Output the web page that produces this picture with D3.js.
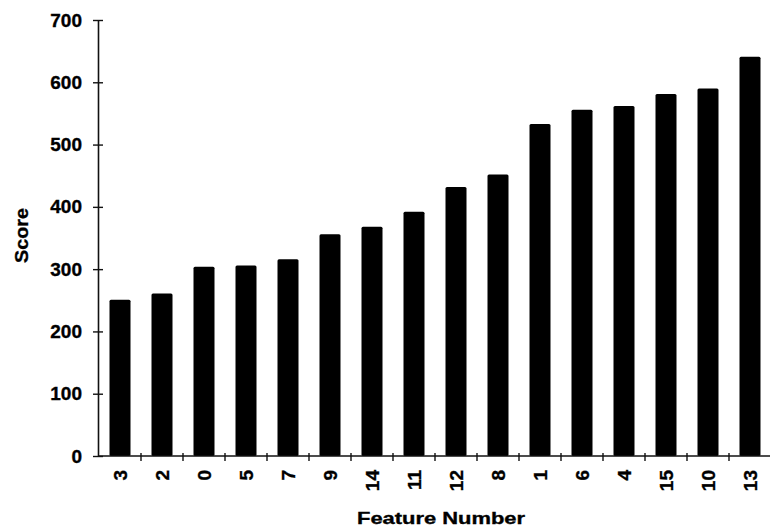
<!DOCTYPE html>
<html>
<head>
<meta charset="utf-8">
<script src="https://cdn.jsdelivr.net/npm/d3@7"></script>
<style>
  html, body { margin: 0; padding: 0; background: #fff; }
  svg { display: block; }
  text { font-family: "Liberation Sans", Arial, Helvetica, sans-serif; font-weight: bold; fill: #000; stroke: #000; stroke-width: 0.35px; }
</style>
</head>
<body>
<svg id="chart" width="770" height="529"></svg>
<script>
// Features sorted by score
const features = ["3", "2", "0", "5", "7", "9", "14", "11", "12", "8", "1", "6", "4", "15", "10", "13"];
const scores = [251, 261, 304, 306, 316, 356, 368, 392, 432, 452, 533, 556, 562, 581, 590, 641];
const yTicks = [0, 100, 200, 300, 400, 500, 600, 700];
const xTitle = "Feature Number";
const yTitle = "Score";

const svg = d3.select("#chart");
const plotLeft = 99, plotRight = 771, plotTop = 20, plotBottom = 456;

// one slot per feature; the bar fills the middle half of its slot
const slot = d3.scaleBand().domain(features).range([plotLeft, plotRight]).padding(0);
const y = d3.scaleLinear().domain([0, 700]).range([plotBottom, plotTop]);

const data = features.map((f, i) => ({ feature: f, score: scores[i] }));
const barW = slot.bandwidth() * 0.5;

svg.append("g")
  .selectAll("rect")
  .data(data)
  .join("rect")
  .attr("x", d => slot(d.feature) + (slot.bandwidth() - barW) / 2)
  .attr("y", d => y(d.score))
  .attr("width", barW)
  .attr("height", d => y(0) - y(d.score))
  .attr("rx", 1.5)
  .attr("fill", "#000");

// y axis: ticks cross the axis line
const yAxis = svg.append("g")
  .attr("transform", `translate(${plotLeft - 1},0)`)
  .call(d3.axisLeft(y).tickValues(yTicks).tickSize(5).tickPadding(11).tickSizeOuter(0));
yAxis.select(".domain").attr("stroke", "#111").attr("stroke-width", 1.6);
yAxis.selectAll(".tick line").attr("x1", 5).attr("stroke", "#111").attr("stroke-width", 1.4);
yAxis.selectAll(".tick text").style("font-size", "19px").style("font-family", null);

// x axis line with ticks on slot boundaries
const xAxis = svg.append("g");
xAxis.append("line")
  .attr("x1", plotLeft - 1).attr("x2", plotRight)
  .attr("y1", plotBottom).attr("y2", plotBottom)
  .attr("stroke", "#111").attr("stroke-width", 1.6);
xAxis.selectAll(".bound")
  .data(features.slice(1))
  .join("line")
  .attr("class", "bound")
  .attr("x1", d => slot(d)).attr("x2", d => slot(d))
  .attr("y1", plotBottom - 3).attr("y2", plotBottom + 5)
  .attr("stroke", "#111").attr("stroke-width", 1.4);

// rotated feature labels
xAxis.selectAll(".flabel")
  .data(features)
  .join("text")
  .attr("class", "flabel")
  .attr("transform", d => `translate(${slot(d) + slot.bandwidth() / 2},${plotBottom + 14}) rotate(-90)`)
  .attr("text-anchor", "end")
  .attr("dy", "0.35em")
  .style("font-size", "19px")
  .text(d => d);

// axis titles
svg.append("text")
  .attr("x", 441).attr("y", 523.5)
  .attr("text-anchor", "middle")
  .attr("textLength", 168).attr("lengthAdjust", "spacingAndGlyphs")
  .style("font-size", "17px")
  .text(xTitle);

svg.append("text")
  .attr("transform", `translate(27.5,235.5) rotate(-90)`)
  .attr("text-anchor", "middle")
  .attr("textLength", 55).attr("lengthAdjust", "spacingAndGlyphs")
  .style("font-size", "18px")
  .text(yTitle);
</script>
</body>
</html>
